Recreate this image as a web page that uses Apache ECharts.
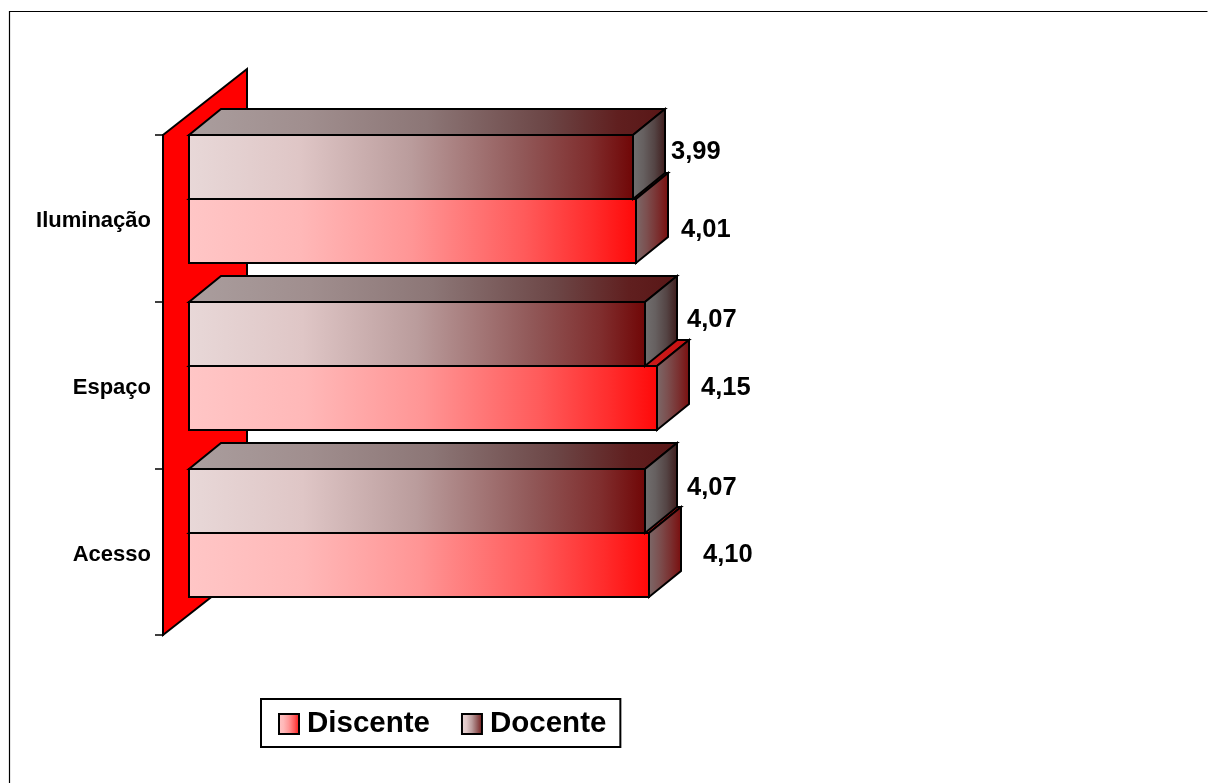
<!DOCTYPE html>
<html><head><meta charset="utf-8">
<style>html,body{margin:0;padding:0;background:#fff}#c{width:1208px;height:783px}</style>
<script src="https://cdn.jsdelivr.net/npm/echarts@6/dist/echarts.min.js"></script>
</head><body><div id="c"></div>
<script>
const categories = ['Acesso', 'Espaço', 'Iluminação'];
const discente = [4.10, 4.15, 4.01];
const docente = [4.07, 4.07, 3.99];
const labelNudgeDiscente = [[54, -10], [44, -10], [45, -1]];
const labelNudgeDocente = [[42, -13], [42, -14], [38, -15]];

const grad = (stops) => new echarts.graphic.LinearGradient(0, 0, 1, 0,
  stops.map((color, i) => ({offset: stops.length > 4 ? [0, 0.25, 0.5, 0.75, 0.9, 1][i] : i / (stops.length - 1), color})));
const FONT = '"Liberation Sans", Arial, sans-serif';
const BAR_H = 64, WALL_DX = 84, WALL_DY = 66, BAR_GAP = 26, DEPTH_X = 32, DEPTH_Y = 26;
const LINE = {stroke: '#000', lineWidth: 2};

const frontDis = ['#FFC6C6', '#FFB8B8', '#FF9595', '#FF5A5A', '#FF2C2C', '#FF0808'];
const frontDoc = ['#E8D8D8', '#DFC6C6', '#BA9C9C', '#915858', '#802E2E', '#700606'];
const palette = {
  Discente: {front: grad(frontDis), top: grad(['#C8A0A0', '#C88080', '#C84040', '#C81010']), side: grad(['#7C6A6A', '#7C5050', '#7A3030', '#7A0C0C'])},
  Docente: {front: grad(frontDoc), top: grad(['#AA9E9E', '#A08E8E', '#8C7676', '#6C4646', '#601F1F', '#581616']), side: grad(['#727070', '#666060', '#544444', '#3E1A1A'])}
};

function poly(points, fill, z2) {
  return {type: 'polygon', z2, shape: {points}, style: {fill, ...LINE, lineJoin: 'miter'}};
}

function barRender(name, slot, nudges) {
  return function (params, api) {
    const value = api.value(1);
    const idx = api.value(0);
    const cs = params.coordSys;
    const end = api.coord([value, idx]);
    const x0 = cs.x + BAR_GAP;
    const x1 = Math.round(end[0] + BAR_GAP);
    const yMid = Math.round(end[1] - 51) + slot * BAR_H;
    const yT = yMid - BAR_H / 2, yB = yMid + BAR_H / 2;
    const c = palette[name];
    const n = nudges[idx];
    return {type: 'group', children: [
      poly([[x0, yT], [x1, yT], [x1 + DEPTH_X, yT - DEPTH_Y], [x0 + DEPTH_X, yT - DEPTH_Y]], c.top, 1),
      poly([[x1, yT], [x1 + DEPTH_X, yT - DEPTH_Y], [x1 + DEPTH_X, yB - DEPTH_Y], [x1, yB]], c.side, 1),
      poly([[x0, yT], [x1, yT], [x1, yB], [x0, yB]], c.front, 2),
      {type: 'text', z2: 5, style: {
        text: value.toFixed(2).replace('.', ','),
        x: x1 + n[0], y: yMid + n[1], align: 'left', verticalAlign: 'middle',
        font: 'bold 25.5px ' + FONT, fill: '#000'}}
    ]};
  };
}

function wallRender(params) {
  const cs = params.coordSys;
  const l = cs.x, t = cs.y, b = cs.y + cs.height;
  return {type: 'polygon', shape: {points: [[l, t], [l + WALL_DX, t - WALL_DY], [l + WALL_DX, b - WALL_DY], [l, b]]},
    style: {fill: '#FF0000', ...LINE}};
}

const chart = echarts.init(document.getElementById('c'), null, {renderer: 'canvas'});
chart.setOption({
  animation: false,
  backgroundColor: '#fff',
  graphic: [{type: 'polyline', silent: true, z: -10,
    shape: {points: [[9.5, 783], [9.5, 11.5], [1207.5, 11.5]]}, style: {fill: null, stroke: '#000', lineWidth: 1.2}}],
  grid: {left: 163, top: 135, width: 594, height: 500},
  xAxis: {type: 'value', min: 1, max: 5, show: false},
  yAxis: {type: 'category', data: categories, position: 'left',
    axisLine: {show: true, lineStyle: {color: '#000', width: 2}},
    axisTick: {show: true, length: 8, alignWithLabel: false, lineStyle: {color: '#000', width: 1.5}},
    axisLabel: {color: '#000', fontFamily: FONT, fontWeight: 'bold', fontSize: 22, margin: 12, verticalAlign: 'top', lineHeight: 6},
    splitLine: {show: false}},
  legend: {
    left: 261, top: 699, orient: 'horizontal', padding: [10, 14, 8, 17], itemGap: 31,
    itemWidth: 20, itemHeight: 20, backgroundColor: '#fff', borderColor: '#000', borderWidth: 2,
    textStyle: {color: '#000', fontFamily: FONT, fontWeight: 'bold', fontSize: 29.5, padding: [2, 0, 0, 3]},
    data: [
      {name: 'Discente', icon: 'rect', itemStyle: {color: grad(frontDis), borderColor: '#000', borderWidth: 2}},
      {name: 'Docente', icon: 'rect', itemStyle: {color: grad(frontDoc), borderColor: '#000', borderWidth: 2}}
    ]
  },
  series: [
    {type: 'custom', name: 'wall', silent: true, z: 1, renderItem: wallRender, data: [[1, 0]], encode: {x: 0, y: 1}},
    {type: 'custom', name: 'Discente', z: 2, renderItem: barRender('Discente', 1, labelNudgeDiscente),
      data: categories.map((c, i) => [i, discente[i]]), encode: {y: 0, x: 1}},
    {type: 'custom', name: 'Docente', z: 3, renderItem: barRender('Docente', 0, labelNudgeDocente),
      data: categories.map((c, i) => [i, docente[i]]), encode: {y: 0, x: 1}}
  ]
});
</script></body></html>
